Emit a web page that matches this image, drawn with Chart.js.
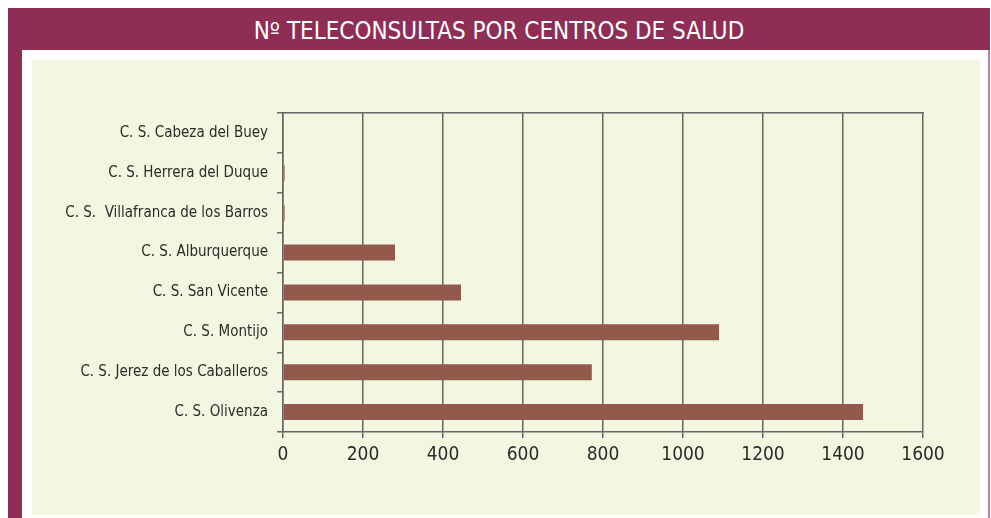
<!DOCTYPE html>
<html>
<head>
<meta charset="utf-8">
<script src="https://cdn.jsdelivr.net/npm/chart.js@4.4.1/dist/chart.umd.min.js"></script>
<style>
  body { margin: 0; background: #ffffff; width: 991px; height: 518px; overflow: hidden; position: relative; }
  .header {
    position: absolute; left: 8px; top: 8px; width: 982px; height: 42px;
    background: #8f2e54; color: #ffffff;
    font-family: 'Liberation Sans Narrow', 'DejaVu Sans Condensed', sans-serif;
    font-size: 24px; line-height: 47px; text-align: center;
  }
  .strip { position: absolute; left: 8px; top: 50px; width: 14px; height: 468px; background: #8f2e54; }
  .rline { position: absolute; left: 988px; top: 50px; width: 2px; height: 468px; background: #c27b98; }
  .panel { position: absolute; left: 32px; top: 60px; width: 948px; height: 455px; background: #f3f7e1; }
</style>
</head>
<body>
<div class="header">Nº TELECONSULTAS POR CENTROS DE SALUD</div>
<div class="strip"></div>
<div class="rline"></div>
<div class="panel"><canvas id="chart" width="948" height="455"></canvas></div>
<script>
// centros de salud, de arriba a abajo
const centros = [
    'C. S. Cabeza del Buey',
    'C. S. Herrera del Duque',
    'C. S.  Villafranca de los Barros',
    'C. S. Alburquerque',
    'C. S. San Vicente',
    'C. S. Montijo',
    'C. S. Jerez de los Caballeros',
    'C. S. Olivenza'
];
const teleconsultas = [0, 4, 4, 280, 445, 1090, 772, 1450];
const xTicks = [0, 200, 400, 600, 800, 1000, 1200, 1400, 1600];

const fontFamily = "'Liberation Sans Narrow', 'DejaVu Sans Condensed', sans-serif";
const gridColor = '#666666';

const ctx = document.getElementById('chart').getContext('2d');
new Chart(ctx, {
    type: 'bar',
    data: {
        labels: centros,
        datasets: [{
            data: teleconsultas,
            backgroundColor: '#925a4a',
            borderWidth: 0,
            barPercentage: 0.4,
            categoryPercentage: 1
        }]
    },
    options: {
        indexAxis: 'y',
        responsive: false,
        animation: false,
        plugins: {
            legend: { display: false },
            tooltip: { enabled: false }
        },
        layout: { padding: { top: 53, right: 57, bottom: 0, left: 0 } },
        scales: {
            x: {
                type: 'linear',
                min: 0,
                max: 1600,
                afterBuildTicks: scale => { scale.ticks = xTicks.map(v => ({ value: v })); },
                afterFit: scale => { scale.height = 83; },
                grid: { color: gridColor, lineWidth: 1.5, tickLength: 6 },
                border: { color: gridColor, width: 1.5 },
                ticks: {
                    color: '#2b2b2b',
                    padding: 6,
                    font: { family: fontFamily, size: 19 },
                    callback: v => String(v)
                }
            },
            xTop: {
                type: 'linear',
                position: 'top',
                min: 0,
                max: 1600,
                afterFit: scale => { scale.height = 0; },
                grid: { display: false, drawTicks: false },
                border: { color: gridColor, width: 1.5 },
                ticks: { display: false }
            },
            y: {
                afterFit: scale => { scale.width = 251; },
                grid: { drawOnChartArea: false, color: gridColor, lineWidth: 1.5, tickLength: 6 },
                border: { color: gridColor, width: 1.5 },
                ticks: {
                    color: '#2b2b2b',
                    padding: 9,
                    font: { family: fontFamily, size: 15 }
                }
            }
        }
    }
});
</script>
</body>
</html>
